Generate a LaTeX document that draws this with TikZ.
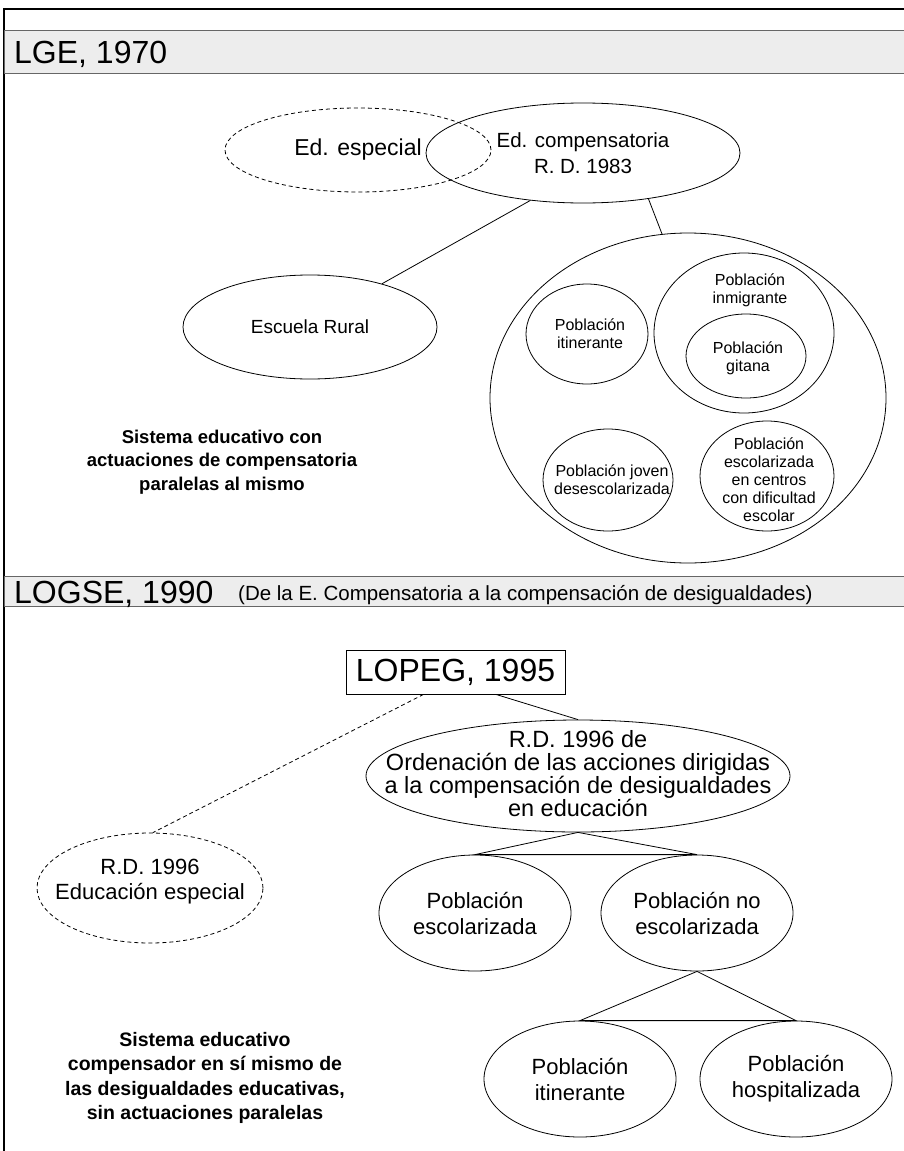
\documentclass[tikz,border=0pt]{standalone}
\usepackage{fontspec}
\setmainfont{Liberation Sans}
\usetikzlibrary{shapes.geometric}
\begin{document}
\begin{tikzpicture}[x=1pt,y=-1pt,
  ell/.style={ellipse,draw,line width=0.8pt,inner sep=0pt,align=center,font=\fontsize{22}{26}\selectfont},
  dell/.style={ell,dash pattern=on 4pt off 3pt},
  sell/.style={ellipse,draw,line width=0.8pt,inner sep=0pt},
  stxt/.style={align=center,inner sep=0pt,font=\fontsize{16}{18}\selectfont},
  txt/.style={align=center,inner sep=0pt},
  conn/.style={line width=0.8pt},
  bar/.style={fill=black!7,draw=black!60,line width=0.8pt},
  head/.style={anchor=base west,inner sep=0pt,font=\fontsize{32}{32}\selectfont},
  bold/.style={align=center,inner sep=0pt,font=\bfseries\fontsize{18.5}{23.5}\selectfont},
]
\useasboundingbox (0,0) rectangle (904,1151);
\fill[white] (0,0) rectangle (904,1151);
% frame
\draw[line width=2pt] (4,1152) -- (4,9) -- (906,9);
% bars
\draw[bar] (4,30) rectangle (906,73);
\node[head] (lge) at (14,63) {LGE, 1970};
\draw[bar] (4,576) rectangle (906,606);
\node[head] (logse) at (14,603) {LOGSE, 1990};
\node[anchor=base west,inner sep=0pt,font=\fontsize{20.5}{20.5}\selectfont] (sub) at (238,600) {(De la E. Compensatoria a la compensación de desigualdades)};
% upper part
\node[dell, font=\fontsize{23}{26}\selectfont, minimum width=266pt, minimum height=84pt] (esp) at (358,150) {Ed. especial};
\node[ell, font=\fontsize{20.5}{26}\selectfont, minimum width=314pt, minimum height=100pt] (comp) at (583,153) {Ed. compensatoria\\R. D. 1983};
\node[ell, font=\fontsize{19}{21}\selectfont, minimum width=254pt, minimum height=104pt] (rural) at (310,327) {Escuela Rural};
\node[sell, minimum width=396pt, minimum height=330pt] (big) at (688,398) {};
\node[sell, minimum width=122pt, minimum height=100pt] (itin1) at (587,334) {};
\node[stxt] (itin1t) at (590,334) {Población\\itinerante};
\node[sell, minimum width=180pt, minimum height=160pt] (inm) at (744,333) {};
\node[stxt] (inmt) at (750,290) {Población\\inmigrante};
\node[sell, minimum width=120pt, minimum height=84pt] (git) at (746,356) {};
\node[stxt] (gitt) at (748,358) {Población\\gitana};
\node[sell, minimum width=130pt, minimum height=102pt] (jov) at (608,480) {};
\node[stxt] (jovt) at (612,480) {Población joven\\desescolarizada};
\node[sell, minimum width=134pt, minimum height=110pt] (cen) at (767,476) {};
\node[stxt] (cent) at (769,480) {Población\\escolarizada\\en centros\\con dificultad\\escolar};
\draw[conn] (comp.222) -- (rural.31);
\draw[conn] (comp.325) -- (big.99);
\node[bold] (sis1) at (222,462) {Sistema educativo con\\actuaciones de compensatoria\\paralelas al mismo};
% lower part
\node[draw, line width=0.8pt, minimum width=219pt, minimum height=44pt, inner sep=0pt, font=\fontsize{32}{32}\selectfont] (lopeg) at (455.5,672) {LOPEG, 1995};
\node[sell, minimum width=424pt, minimum height=112pt] (rd) at (578,776) {};
\node[txt, font=\fontsize{23.5}{23}\selectfont] (rdt) at (578,773.5) {R.D. 1996 de\\Ordenación de las acciones dirigidas\\a la compensación de desigualdades\\en educación};
\node[sell, dash pattern=on 4pt off 3pt, minimum width=226pt, minimum height=110pt] (edesp) at (150,888) {};
\node[txt, font=\fontsize{22}{25}\selectfont] (edespt) at (150,882) {R.D. 1996\\Educación especial};
\node[ell, minimum width=192pt, minimum height=116pt] (escol) at (475,913) {Población\\escolarizada};
\node[ell, minimum width=192pt, minimum height=116pt] (noesc) at (697,913) {Población no\\escolarizada};
\node[ell, minimum width=192pt, minimum height=116pt] (itin2) at (580,1079) {Población\\itinerante};
\node[ell, minimum width=192pt, minimum height=116pt] (hosp) at (796,1079) {Población\\hospitalizada};
\draw[conn] (lopeg.331) -- (rd.north);
\draw[conn, dash pattern=on 4pt off 3pt] (lopeg.215) -- (edesp.87);
\draw[conn] (rd.south) -- (escol.north) -- (noesc.north) -- cycle;
\draw[conn] (noesc.south) -- (itin2.north) -- (hosp.north) -- cycle;
\node[bold, font=\bfseries\fontsize{19.5}{24.5}\selectfont] (sis2) at (205,1078) {Sistema educativo\\compensador en sí mismo de\\las desigualdades educativas,\\sin actuaciones paralelas};
\end{tikzpicture}
\end{document}
